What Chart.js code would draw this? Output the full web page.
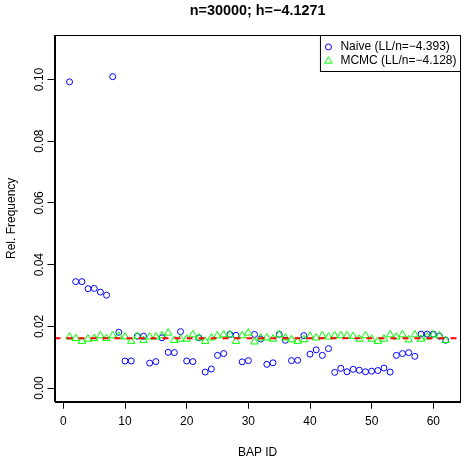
<!DOCTYPE html>
<html>
<head>
<meta charset="utf-8">
<script src="https://cdn.jsdelivr.net/npm/chart.js@4/dist/chart.umd.min.js"></script>
<style>
  html, body { margin: 0; padding: 0; background: #fff; }
  canvas { display: block; }
</style>
</head>
<body>
<canvas id="freqChart" width="466" height="456"></canvas>
<script>
// BAP ids 1..62
const bapIds = Array.from({ length: 62 }, (_, i) => i + 1);

const naiveFreq = [
  0.0992, 0.0345, 0.0345, 0.0322, 0.0323, 0.0311, 0.0301, 0.1009, 0.0181, 0.0088,
  0.0088, 0.0168, 0.0168, 0.0081, 0.0086, 0.0163, 0.0116, 0.0115, 0.0183, 0.0088,
  0.0086, 0.0163, 0.0052, 0.0062, 0.0106, 0.0112, 0.0174, 0.0171, 0.0085, 0.0089,
  0.0174, 0.0159, 0.0077, 0.0082, 0.0174, 0.0155, 0.0089, 0.0090, 0.0170, 0.0110,
  0.0124, 0.0106, 0.0128, 0.0051, 0.0064, 0.0053, 0.0061, 0.0058, 0.0053, 0.0055,
  0.0057, 0.0065, 0.0052, 0.0106, 0.0112, 0.0115, 0.0103, 0.0175, 0.0175, 0.0175,
  0.0168, 0.0155
];

const mcmcFreq = [
  0.0166, 0.0161, 0.0152, 0.0159, 0.0161, 0.0170, 0.0161, 0.0170, 0.0168, 0.0166,
  0.0152, 0.0168, 0.0155, 0.0166, 0.0166, 0.0170, 0.0179, 0.0155, 0.0159, 0.0159,
  0.0173, 0.0163, 0.0152, 0.0163, 0.0170, 0.0173, 0.0173, 0.0152, 0.0170, 0.0179,
  0.0150, 0.0163, 0.0163, 0.0159, 0.0173, 0.0163, 0.0157, 0.0152, 0.0157, 0.0168,
  0.0163, 0.0170, 0.0166, 0.0170, 0.0170, 0.0170, 0.0168, 0.0159, 0.0170, 0.0159,
  0.0152, 0.0159, 0.0173, 0.0166, 0.0173, 0.0157, 0.0173, 0.0159, 0.0166, 0.0173,
  0.0170, 0.0155
];

const xTicks = [0, 10, 20, 30, 40, 50, 60];
const yTicks = [0.00, 0.02, 0.04, 0.06, 0.08, 0.10];

const legendLabels = ['Naive (LL/n=\u22124.393)', 'MCMC (LL/n=\u22124.128)'];
const titleText = 'n=30000; h=\u22124.1271';

// R-style limits (4% extension)
const xMin = -1.44, xMax = 64.44;
const yMin = -0.0044, yMax = 0.1144;
const uniform = 1 / bapIds.length;

const FONT = '"Liberation Sans", Arial, Helvetica, sans-serif';

// box, title and legend drawn like base R graphics
const rDecor = {
  id: 'rDecor',
  afterDraw(chart) {
    const { ctx, chartArea: a } = chart;
    ctx.save();
    ctx.strokeStyle = '#000';
    ctx.lineWidth = 1;
    ctx.strokeRect(Math.round(a.left) + 0.5, Math.round(a.top) + 0.5,
      Math.round(a.right - a.left) - 1, Math.round(a.bottom - a.top));

    ctx.fillStyle = '#000';
    ctx.font = 'bold 14.4px ' + FONT;
    ctx.textAlign = 'center';
    ctx.textBaseline = 'middle';
    ctx.fillText(titleText, (a.left + a.right) / 2, 11);

    // legend in the top right corner
    ctx.font = '12px ' + FONT;
    const textW = Math.max(...legendLabels.map(t => ctx.measureText(t).width));
    const boxR = Math.round(a.right) - 0.5;
    const boxT = Math.round(a.top) + 0.5;
    const boxW = textW + 24;
    const boxH = 36;
    const boxL = boxR - boxW;
    ctx.fillStyle = '#fff';
    ctx.fillRect(boxL, boxT, boxW, boxH);
    ctx.strokeRect(boxL, boxT, boxW, boxH);
    const symX = boxL + 8;
    const rows = [boxT + 11.5, boxT + 25.5];
    ctx.textAlign = 'left';
    ctx.fillStyle = '#000';
    rows.forEach((y, i) => ctx.fillText(legendLabels[i], boxL + 20, y));
    // symbols
    ctx.lineWidth = 1;
    ctx.strokeStyle = '#0000ff';
    ctx.beginPath();
    ctx.arc(symX, rows[0], 3, 0, Math.PI * 2);
    ctx.stroke();
    ctx.strokeStyle = '#00ff00';
    ctx.beginPath();
    const r = 4.3;
    ctx.moveTo(symX, rows[1] - r);
    ctx.lineTo(symX + r * Math.sin(2 * Math.PI / 3), rows[1] + r / 2);
    ctx.lineTo(symX - r * Math.sin(2 * Math.PI / 3), rows[1] + r / 2);
    ctx.closePath();
    ctx.stroke();
    ctx.restore();
  }
};

const ctx = document.getElementById('freqChart').getContext('2d');

new Chart(ctx, {
  type: 'scatter',
  data: {
    datasets: [
      {
        label: 'uniform',
        type: 'line',
        data: [{ x: xMin, y: uniform }, { x: xMax, y: uniform }],
        borderColor: '#ff0000',
        borderWidth: 2,
        borderDash: [6, 6],
        pointRadius: 0,
        fill: false,
        order: 0
      },
      {
        label: 'MCMC',
        data: bapIds.map((id, i) => ({ x: id, y: mcmcFreq[i] })),
        pointStyle: 'triangle',
        pointRadius: 4.3,
        borderColor: '#00ff00',
        backgroundColor: 'rgba(0,0,0,0)',
        borderWidth: 1,
        order: 1
      },
      {
        label: 'Naive',
        data: bapIds.map((id, i) => ({ x: id, y: naiveFreq[i] })),
        pointStyle: 'circle',
        pointRadius: 3,
        borderColor: '#0000ff',
        backgroundColor: 'rgba(0,0,0,0)',
        borderWidth: 1,
        order: 2
      }
    ]
  },
  options: {
    responsive: false,
    animation: false,
    devicePixelRatio: 1,
    layout: { padding: { top: 35, right: 4.5, left: 0, bottom: 0 } },
    plugins: {
      legend: { display: false },
      tooltip: { enabled: false },
      title: { display: false }
    },
    scales: {
      x: {
        type: 'linear',
        min: xMin,
        max: xMax,
        afterBuildTicks: s => { s.ticks = xTicks.map(v => ({ value: v })); },
        afterFit: s => { s.height = 54.3; },
        grid: { drawOnChartArea: false, drawTicks: true, tickLength: 7, tickColor: '#000', color: '#000' },
        border: { display: true, color: '#000' },
        ticks: {
          color: '#000',
          font: { family: FONT, size: 12 },
          padding: 6,
          maxRotation: 0,
          callback: v => String(v)
        },
        title: {
          display: true,
          text: 'BAP ID',
          color: '#000',
          font: { family: FONT, size: 12, lineHeight: 0.6 },
          padding: { top: 0, bottom: 0 }
        }
      },
      y: {
        type: 'linear',
        min: yMin,
        max: yMax,
        afterBuildTicks: s => { s.ticks = yTicks.map(v => ({ value: v })); },
        afterFit: s => { s.width = 54.5; },
        grid: { drawOnChartArea: false, drawTicks: true, tickLength: 7, tickColor: '#000', color: '#000' },
        border: { display: true, color: '#000' },
        ticks: {
          color: '#000',
          font: { family: FONT, size: 12 },
          minRotation: 90,
          maxRotation: 90,
          crossAlign: 'center',
          padding: -4,
          callback: v => v.toFixed(2)
        },
        title: {
          display: true,
          text: 'Rel. Frequency',
          color: '#000',
          font: { family: FONT, size: 12, lineHeight: 1 },
          padding: { top: 6, bottom: 0 }
        }
      }
    }
  },
  plugins: [rDecor]
});
</script>
</body>
</html>
